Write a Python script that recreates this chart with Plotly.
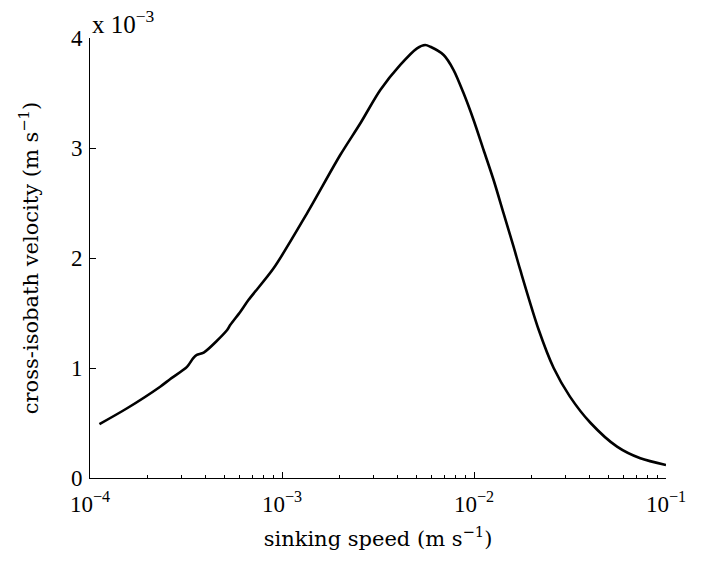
import plotly.graph_objects as go

# sinking speed (m s^-1)
sinking_speed = [1.12e-4, 1.56e-4, 2.32e-4, 2.62e-4, 3.20e-4, 3.45e-4, 3.60e-4, 3.91e-4,
                 5.18e-4, 5.37e-4, 6.07e-4, 6.70e-4, 9.04e-4, 1.35e-3, 2.01e-3,
                 2.56e-3, 3.25e-3, 4.13e-3, 5.05e-3, 5.57e-3, 5.93e-3, 6.95e-3,
                 7.83e-3, 8.83e-3, 9.95e-3, 1.122e-2, 1.265e-2, 1.426e-2, 1.607e-2,
                 1.742e-2, 2.17e-2, 2.60e-2, 3.16e-2, 4.05e-2, 5.56e-2, 7.35e-2, 1.0e-1]
# cross-isobath velocity (x 10^-3 m s^-1)
velocity = [0.49, 0.634, 0.83, 0.90, 1.01, 1.09, 1.12, 1.14,
            1.345, 1.39, 1.512, 1.62, 1.906, 2.406, 2.936,
            3.225, 3.527, 3.755, 3.906, 3.936, 3.92, 3.845,
            3.709, 3.497, 3.255, 2.982, 2.709, 2.406, 2.103,
            1.891, 1.35, 1.0, 0.74, 0.50, 0.285, 0.179, 0.118]

x_tickvals = [1e-4, 1e-3, 1e-2, 1e-1]
x_ticktext = ["10<sup>\u22124</sup>", "10<sup>\u22123</sup>", "10<sup>\u22122</sup>", "10<sup>\u22121</sup>"]
y_tickvals = [0, 1, 2, 3, 4]

tick_font = "Liberation Serif, serif"
title_font = "DejaVu Serif, serif"

fig = go.Figure()
fig.add_trace(go.Scatter(x=sinking_speed, y=velocity, mode="lines",
                         line=dict(color="black", width=2.6, shape="spline", smoothing=0.8),
                         showlegend=False))

fig.update_layout(
    width=710, height=562,
    margin=dict(l=90, r=44, t=38, b=84),
    paper_bgcolor="white", plot_bgcolor="white",
    font=dict(family=tick_font, size=23, color="black"),
    xaxis=dict(type="log", range=[-4, -1], tickvals=x_tickvals, ticktext=x_ticktext,
               ticks="inside", ticklen=6, tickcolor="black", showline=True, linecolor="black",
               linewidth=1, showgrid=False, zeroline=False, mirror=False,
               minor=dict(ticks="inside", ticklen=3, tickcolor="black", dtick="D1", showgrid=False),
               tickfont=dict(family=tick_font, size=23), ticklabelstandoff=5,
               title=dict(text="sinking speed (m s<sup>\u22121</sup>)",
                          font=dict(family=title_font, size=21), standoff=15)),
    yaxis=dict(range=[0, 4], tickvals=y_tickvals, ticks="inside", ticklen=6, tickcolor="black",
               showline=True, linecolor="black", linewidth=1, showgrid=False, zeroline=False,
               tickfont=dict(family=tick_font, size=23), ticklabelstandoff=2,
               title=dict(text="cross-isobath velocity (m s<sup>\u22121</sup>)",
                          font=dict(family=title_font, size=21), standoff=26)),
    annotations=[dict(text="x 10<sup>\u22123</sup>", xref="paper", yref="paper", x=0.0, y=1.0,
                      xanchor="left", yanchor="bottom", showarrow=False, xshift=0, yshift=-2,
                      font=dict(family=tick_font, size=25))],
)

fig.write_html("out.html")
